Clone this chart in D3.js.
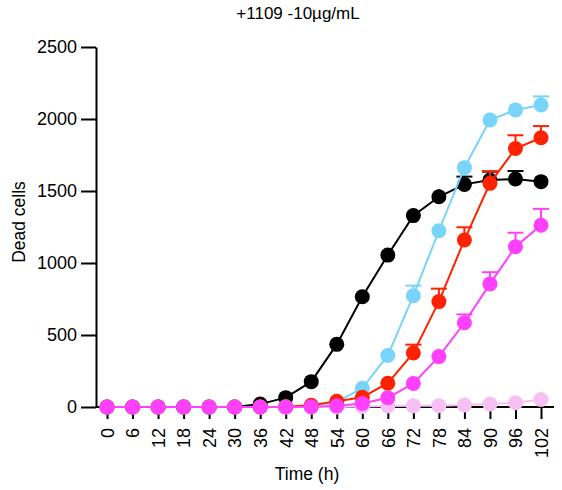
<!DOCTYPE html>
<html>
<head>
<meta charset="utf-8">
<script src="https://cdn.jsdelivr.net/npm/d3@7"></script>
<style>
  body { margin: 0; background: #fff; }
  text { font-family: "Liberation Sans", Arial, sans-serif; fill: #000; }
</style>
</head>
<body>
<div id="chart"></div>
<script>
(function () {
  "use strict";

  var times = [0, 6, 12, 18, 24, 30, 36, 42, 48, 54, 60, 66, 72, 78, 84, 90, 96, 102];
  var yTicks = [0, 500, 1000, 1500, 2000, 2500];

  // mean values per series
  var lightPinkVals = [0, 0, 0, 0, 0, 0, 0, 0, 0, 0, 3, 7, 8, 9, 14, 21, 30, 52];
  var blackVals = [0, 0, 0, 0, 0, 0, 20, 65, 176, 435, 766, 1055, 1329, 1460, 1546, 1576, 1583, 1565];
  var cyanVals = [0, 0, 0, 0, 0, 0, 0, 2, 8, 35, 130, 358, 773, 1224, 1662, 1993, 2063, 2097];
  var redVals = [0, 0, 0, 0, 0, 0, 0, 2, 12, 40, 68, 165, 375, 732, 1160, 1553, 1795, 1870];
  var magentaVals = [0, 0, 0, 0, 0, 0, 0, 0, 2, 8, 24, 64, 164, 350, 585, 855, 1113, 1262];

  // upper error (SEM) per series
  var lightPinkErr = [0, 0, 0, 0, 0, 0, 0, 0, 0, 0, 1, 2, 2, 2, 3, 4, 5, 6];
  var blackErr = [0, 0, 0, 0, 0, 0, 3, 6, 10, 15, 20, 25, 50, 52, 54, 58, 56, 20];
  var cyanErr = [0, 0, 0, 0, 0, 0, 0, 1, 2, 5, 10, 20, 70, 40, 35, 51, 50, 60];
  var redErr = [0, 0, 0, 0, 0, 0, 0, 1, 2, 5, 10, 20, 58, 90, 88, 85, 92, 81];
  var magentaErr = [0, 0, 0, 0, 0, 0, 0, 0, 1, 2, 5, 10, 20, 40, 58, 81, 97, 114];

  var series = [
    {name: "lightpink", color: "#f7c0f5", vals: lightPinkVals, err: lightPinkErr},
    {name: "black", color: "#000000", vals: blackVals, err: blackErr},
    {name: "cyan", color: "#78d4fa", vals: cyanVals, err: cyanErr},
    {name: "red", color: "#ff2200", vals: redVals, err: redErr},
    {name: "magenta", color: "#ff40ff", vals: magentaVals, err: magentaErr}
  ];

  var width = 562, height = 490;
  var svg = d3.select("#chart").append("svg")
    .attr("width", width)
    .attr("height", height);

  var x = d3.scaleLinear().domain([0, 102]).range([107, 541]);
  var y = d3.scaleLinear().domain([0, 2500]).range([407, 47]);

  // title
  svg.append("text")
    .attr("x", 298)
    .attr("y", 19)
    .attr("text-anchor", "middle")
    .style("font-size", "17px")
    .text("+1109 -10\u00b5g/mL");

  // y axis
  var yAxis = svg.append("g")
    .attr("transform", "translate(96,0)")
    .call(d3.axisLeft(y).tickValues(yTicks).tickFormat(d3.format("d"))
      .tickSize(15).tickPadding(4).tickSizeOuter(0));
  yAxis.select(".domain").attr("stroke-width", 2);
  yAxis.selectAll(".tick line").attr("stroke-width", 2);
  yAxis.selectAll(".tick text").style("font-size", "18px").style("font-family", "Liberation Sans, Arial, sans-serif");

  // x axis
  var xAxis = svg.append("g")
    .attr("transform", "translate(0,407)")
    .call(d3.axisBottom(x).tickValues(times).tickSize(12).tickSizeOuter(0));
  xAxis.select(".domain").attr("d", "M96,0H554").attr("stroke-width", 2);
  xAxis.selectAll(".tick line").attr("stroke-width", 2);
  xAxis.selectAll(".tick text")
    .style("font-size", "18px")
    .style("font-family", "Liberation Sans, Arial, sans-serif")
    .attr("transform", "rotate(-90)")
    .attr("text-anchor", "end")
    .attr("dy", "0.35em")
    .attr("x", -21)
    .attr("y", 0);

  // axis titles
  svg.append("text")
    .attr("transform", "translate(25,222) rotate(-90)")
    .attr("text-anchor", "middle")
    .style("font-size", "17.5px")
    .text("Dead cells");

  svg.append("text")
    .attr("x", 307)
    .attr("y", 480)
    .attr("text-anchor", "middle")
    .style("font-size", "17.5px")
    .text("Time (h)");

  var line = d3.line()
    .x(function (d) { return x(d.t); })
    .y(function (d) { return y(d.v); });

  var r = 7.5;

  series.forEach(function (s) {
    var pts = s.vals.map(function (v, i) {
      return {t: times[i], v: v, e: s.err[i]};
    });
    var g = svg.append("g").attr("class", "series-" + s.name);

    // error bars (upper only)
    g.selectAll(".err-stem").data(pts).enter().append("line")
      .attr("class", "err-stem")
      .attr("x1", function (d) { return x(d.t); })
      .attr("x2", function (d) { return x(d.t); })
      .attr("y1", function (d) { return y(d.v); })
      .attr("y2", function (d) { return y(d.v + d.e); })
      .attr("stroke", s.color)
      .attr("stroke-width", 2);

    var capped = pts.filter(function (d) { return y(d.v) - y(d.v + d.e) > r; });
    g.selectAll(".err-cap").data(capped).enter().append("line")
      .attr("class", "err-cap")
      .attr("x1", function (d) { return x(d.t) - 8; })
      .attr("x2", function (d) { return x(d.t) + 8; })
      .attr("y1", function (d) { return y(d.v + d.e); })
      .attr("y2", function (d) { return y(d.v + d.e); })
      .attr("stroke", s.color)
      .attr("stroke-width", 2);

    g.append("path")
      .datum(pts)
      .attr("d", line)
      .attr("fill", "none")
      .attr("stroke", s.color)
      .attr("stroke-width", 2);

    g.selectAll("circle").data(pts).enter().append("circle")
      .attr("cx", function (d) { return x(d.t); })
      .attr("cy", function (d) { return y(d.v); })
      .attr("r", r)
      .attr("fill", s.color);
  });
})();
</script>
</body>
</html>
